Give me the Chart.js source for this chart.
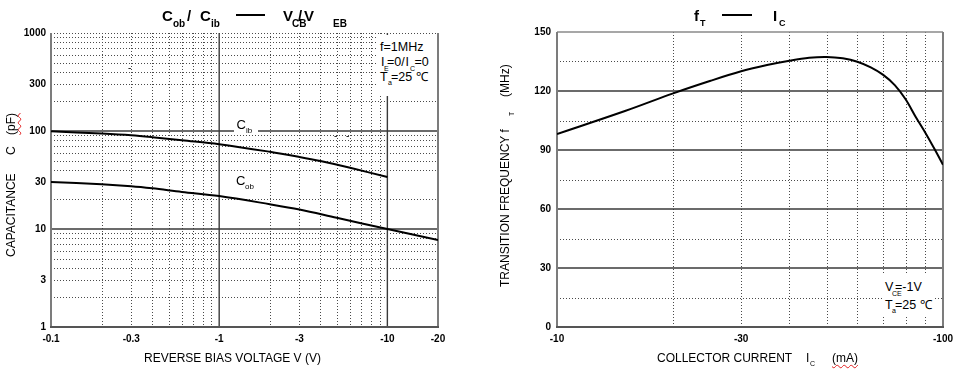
<!DOCTYPE html>
<html><head><meta charset="utf-8">
<script src="https://cdn.jsdelivr.net/npm/chart.js@4.4.1/dist/chart.umd.min.js"></script>
<style>
html,body{margin:0;padding:0;background:#fff;}
#wrap{position:relative;width:959px;height:378px;overflow:hidden;font-family:"Liberation Sans",Arial,sans-serif;color:#000;}
canvas{position:absolute;top:0;}
.t{position:absolute;white-space:pre;}
.box{position:absolute;background:#fff;}
.wavy{text-decoration:underline wavy #e02020;text-decoration-thickness:1px;text-underline-offset:2px;}
</style></head><body>
<div id="wrap">
<canvas id="c1" width="480" height="378" style="left:0;width:480px;height:378px"></canvas>
<canvas id="c2" width="479" height="378" style="left:480px;width:479px;height:378px"></canvas>
</div>
<script>
// ---------- DATA (left: capacitance vs reverse bias voltage, magnitudes) ----------
const cibVoltage = [0.1, 0.2, 0.3, 0.4, 0.6, 1, 2, 3, 4, 6, 10];
const cibValues  = [99.3, 94.1, 90.4, 86.5, 80.4, 73.4, 61.4, 54.3, 49.3, 42.1, 33.9];
const cobVoltage = [0.1, 0.2, 0.3, 0.4, 0.6, 1, 2, 3, 5, 10, 20];
const cobValues  = [30.2, 28.6, 27.3, 26.0, 23.9, 21.7, 17.9, 15.8, 13.0, 10.0, 7.7];
const capXTicks  = [0.1, 0.3, 1, 3, 10, 20];
const capXLabels = ['-0.1', '-0.3', '-1', '-3', '-10', '-20'];
const capYTicks  = [1, 3, 10, 30, 100, 300, 1000];
const capYLabels = ['1', '3', '10', '30', '100', '300', '1000'];

// ---------- DATA (right: transition frequency vs collector current, magnitudes) ----------
const icCurrent = [10, 15, 20, 25, 30, 35, 40, 45, 50, 55, 60, 65, 70, 75, 80, 85, 90, 95, 100];
const ftValues  = [98.1, 109.8, 118.8, 125.2, 130.0, 133.2, 135.4, 136.9, 137.3, 136.6, 134.9, 132.0, 128.2, 123.0, 115.8, 106.8, 98.8, 90.6, 82.5];
const ftXTicks  = [10, 30, 100];
const ftXLabels = ['-10', '-30', '-100'];

// ---------- grid positions ----------
const capXDotted = [0.2,0.3,0.4,0.5,0.6,0.7,0.8,0.9,2,3,4,5,6,7,8,9];
const capXSolid  = [1, 10];
const capYDotted = [2,3,4,5,6,7,8,9,20,40,50,60,70,80,90,200,300,400,500,600,700,800,900,1000];
const capYSolid  = [10, 100];
const ftXDotted  = [20,30,40,50,60,70,80,90];
const ftYDotted  = [15,45,75,105,135];
const ftYSolid   = [30,60,90,120];

const FONT = '"Liberation Sans", Arial, sans-serif';

const gridPlugin = {
  id: 'grid',
  beforeDatasetsDraw(chart, args, o) {
    const {ctx, chartArea: a, scales: {x, y}} = chart;
    ctx.save();
    const line = (x1, y1, x2, y2) => { ctx.beginPath(); ctx.moveTo(x1, y1); ctx.lineTo(x2, y2); ctx.stroke(); };
    ctx.setLineDash([1, 2]);
    ctx.strokeStyle = '#4a4a4a';
    ctx.lineWidth = 1;
    (o.xDotted || []).forEach(v => { const p = Math.round(x.getPixelForValue(v)) + 0.5; line(p, a.top, p, a.bottom); });
    (o.yDotted || []).forEach(v => { const p = Math.round(y.getPixelForValue(v)) + 0.5; line(a.left, p, a.right, p); });
    ctx.setLineDash([]);
    ctx.strokeStyle = '#3a3a3a';
    ctx.lineWidth = 1.4;
    (o.xSolid || []).forEach(v => { const p = x.getPixelForValue(v); line(p, a.top, p, a.bottom); });
    (o.ySolid || []).forEach(v => { const p = y.getPixelForValue(v); line(a.left, p, a.right, p); });
    if (o.topSolid) { ctx.strokeStyle = '#8a8a8a'; ctx.lineWidth = 1.5; line(a.left, a.top, a.right, a.top); }
    ctx.strokeStyle = '#7c7c7c';
    ctx.lineWidth = 2;
    line(a.left, a.top, a.left, a.bottom + 1);
    line(a.right, a.top, a.right, a.bottom + 1);
    ctx.strokeStyle = '#555';
    line(a.left - 1, a.bottom, a.right + 1, a.bottom);
    ctx.restore();
  }
};

const tickFont = {family: FONT, size: 10, weight: 'bold'};
const lineStyle = {borderColor: '#000', borderWidth: 2, pointRadius: 0, tension: 0.35, fill: false};

new Chart(document.getElementById('c1'), {
  type: 'line',
  data: {datasets: [
    Object.assign({data: cibVoltage.map((v, i) => ({x: v, y: cibValues[i]}))}, lineStyle),
    Object.assign({data: cobVoltage.map((v, i) => ({x: v, y: cobValues[i]}))}, lineStyle)
  ]},
  options: {
    responsive: false, animation: false, events: [],
    layout: {padding: {left: 0, right: 42, top: 33, bottom: 0}},
    plugins: {legend: {display: false}, tooltip: {enabled: false},
      grid: {xDotted: capXDotted, xSolid: capXSolid, yDotted: capYDotted, ySolid: capYSolid}},
    scales: {
      x: {type: 'logarithmic', min: 0.1, max: 20,
        grid: {display: false, drawTicks: false}, border: {display: false},
        afterBuildTicks: s => { s.ticks = capXTicks.map(v => ({value: v})); },
        afterFit: s => { s.height = 51; },
        ticks: {callback: (v, i) => capXLabels[i], font: tickFont, color: '#000', padding: 6, maxRotation: 0, autoSkip: false}},
      y: {type: 'logarithmic', min: 1, max: 1000,
        grid: {display: false, drawTicks: false}, border: {display: false},
        afterBuildTicks: s => { s.ticks = capYTicks.map(v => ({value: v})); },
        afterFit: s => { s.width = 51; },
        ticks: {callback: (v, i) => capYLabels[i], font: tickFont, color: '#000', padding: 5, autoSkip: false}}
    }
  },
  plugins: [gridPlugin]
});

new Chart(document.getElementById('c2'), {
  type: 'line',
  data: {datasets: [
    Object.assign({data: icCurrent.map((v, i) => ({x: v, y: ftValues[i]}))}, lineStyle)
  ]},
  options: {
    responsive: false, animation: false, events: [],
    layout: {padding: {left: 0, right: 15, top: 32, bottom: 0}},
    plugins: {legend: {display: false}, tooltip: {enabled: false},
      grid: {xDotted: ftXDotted, yDotted: ftYDotted, ySolid: ftYSolid, topSolid: true}},
    scales: {
      x: {type: 'logarithmic', min: 10, max: 100,
        grid: {display: false, drawTicks: false}, border: {display: false},
        afterBuildTicks: s => { s.ticks = ftXTicks.map(v => ({value: v})); },
        afterFit: s => { s.height = 51; },
        ticks: {callback: (v, i) => ftXLabels[i], font: tickFont, color: '#000', padding: 6, maxRotation: 0, autoSkip: false}},
      y: {type: 'linear', min: 0, max: 150,
        grid: {display: false, drawTicks: false}, border: {display: false},
        afterFit: s => { s.width = 77; },
        ticks: {stepSize: 30, font: tickFont, color: '#000', padding: 6}}
    }
  },
  plugins: [gridPlugin]
});

// ---------- text overlays ----------
const wrap = document.getElementById('wrap');
function box(x, y, w, h) {
  const d = document.createElement('div'); d.className = 'box';
  d.style.cssText = `left:${x}px;top:${y}px;width:${w}px;height:${h}px;`;
  wrap.appendChild(d);
}
function txt(x, base, size, s, extra) {
  const d = document.createElement('div'); d.className = 't';
  d.style.cssText = `left:${x}px;top:${base - 0.8465 * size}px;font-size:${size}px;line-height:${size}px;` + (extra || '');
  d.innerHTML = s; wrap.appendChild(d); return d;
}
function rtxt(xBase, yStart, size, s, extra) {
  const d = document.createElement('div'); d.className = 't';
  d.style.cssText = `left:${xBase - 0.8465 * size}px;top:${yStart}px;font-size:${size}px;line-height:${size}px;transform-origin:0 0;transform:rotate(-90deg);` + (extra || '');
  d.innerHTML = s; wrap.appendChild(d); return d;
}
function hline(x, y, w, h) {
  const d = document.createElement('div');
  d.style.cssText = `position:absolute;left:${x}px;top:${y}px;width:${w}px;height:${h}px;background:#000;`;
  wrap.appendChild(d);
}
const B = 'font-weight:bold;';

// left title
txt(162, 21, 15, 'C', B); txt(173, 27, 10, 'ob', B); txt(187, 21, 15, '/', B);
txt(200, 21, 15, 'C', B); txt(211, 27, 10, 'ib', B);
hline(236, 13.5, 29, 2);
txt(283, 21, 15, 'V', B); txt(292, 27, 10, 'CB', B); txt(298, 21, 15, '/', B);
txt(304, 21, 15, 'V', B); txt(333, 27, 10, 'EB', B);

// right title
txt(694, 21, 15, 'f', B); txt(700, 27, 9, 'T', B);
hline(722, 13.5, 30, 2);
txt(773, 21, 15, 'I', B); txt(779, 27, 9, 'C', B);

// left annotation box
box(377, 35, 60, 61);
txt(380, 52, 12.5, 'f=1MHz');
txt(381, 67, 12.5, 'I'); txt(384, 71, 7, 'E'); txt(387, 67, 12.5, '=0/'); txt(405.5, 67, 12.5, 'I'); txt(410, 71, 7, 'C'); txt(414.5, 67, 12.5, '=0');
txt(380, 82, 12.5, 'T'); txt(388, 85, 7, 'a'); txt(391, 82, 12.5, '=25 ℃');

// curve labels
box(234, 118, 24, 17);
txt(236.5, 129.5, 13, 'C'); txt(246, 134, 8, 'ib');
txt(236, 185, 13, 'C'); txt(245, 190, 8, 'ob');

// small stray marks
txt(128, 71, 10, '-'); txt(334, 139, 10, '-'); txt(346, 139, 10, '-');

// right annotation box
box(882, 275, 51, 41);
txt(885, 292, 12.5, 'V'); txt(892, 296, 7, 'CE'); txt(895, 292, 12.5, '=-1V');
txt(885, 309.5, 12.5, 'T'); txt(892, 313, 7, 'a'); txt(895, 309.5, 12.5, '=25 ℃');

// axis titles
txt(144, 362, 12, 'REVERSE BIAS VOLTAGE V (V)');
txt(657, 362.5, 12, 'COLLECTOR CURRENT'); txt(806, 362.5, 12, 'I'); txt(810, 366, 7, 'C');
txt(832, 362.5, 12, '(mA)', '').classList.add('wavy');
rtxt(15, 257, 12, 'CAPACITANCE'); rtxt(15, 155, 12, 'C'); rtxt(15, 135, 12, '(pF)').classList.add('wavy');
rtxt(509.5, 287, 12, 'TRANSITION FREQUENCY f'); rtxt(513.5, 116, 7, 'T'); rtxt(509.5, 97, 12, '(MHz)');
</script>
</body></html>
